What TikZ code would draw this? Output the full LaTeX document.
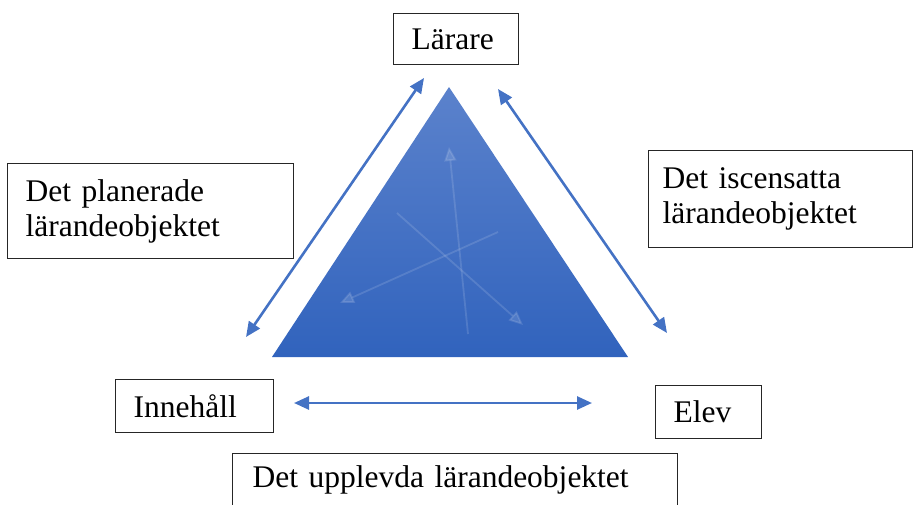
\documentclass[tikz,border=0pt]{standalone}
\usepackage{fontspec}
\setmainfont{Liberation Serif}
\usetikzlibrary{arrows.meta}
\definecolor{arrowblue}{HTML}{4472C4}
\definecolor{tritop}{HTML}{5B82CC}
\definecolor{tribot}{HTML}{3163BD}
\tikzset{
 labelbox/.style={draw=black!85, line width=1.2pt, anchor=north west, align=left, inner xsep=18pt, inner ysep=0pt, font=\fontsize{31.5}{35}\selectfont},
 link/.style={arrowblue, line width=2.6pt, {Triangle[length=15pt,width=13pt]}-{Triangle[length=15pt,width=13pt]}},
 innerarrow/.style={white, opacity=0.13, line width=1.8pt, -{Triangle[length=14pt,width=12pt]}}
}
\begin{document}
\begin{tikzpicture}[x=1pt,y=-1pt]
\useasboundingbox (0,0) rectangle (914,504);
\clip (0,0) rectangle (914,504);
% triangle
\coordinate (apex) at (449,87);
\coordinate (bl) at (272,357);
\coordinate (br) at (628,357);
\shade[top color=tritop, bottom color=tribot] (apex) -- (bl) -- (br) -- cycle;
% faint inner arrows
\coordinate (i1a) at (468,334); \coordinate (i1b) at (449,147);
\coordinate (i2a) at (397,213); \coordinate (i2b) at (523,325);
\coordinate (i3a) at (498,232); \coordinate (i3b) at (340,303);
\draw[innerarrow] (i1a) -- (i1b);
\draw[innerarrow] (i2a) -- (i2b);
\draw[innerarrow] (i3a) -- (i3b);
% boxes
\node[labelbox, text width=89pt, minimum height=51pt] (teacher) at (393,13) {Lärare};
\node[labelbox, text width=250pt, minimum height=95pt] (planned) at (7,163) {Det planerade\\lärandeobjektet};
\node[labelbox, inner xsep=14pt, text width=236pt, minimum height=97pt] (enacted) at (648,150) {Det iscensatta\\lärandeobjektet};
\node[labelbox, text width=122pt, minimum height=53pt] (content) at (115,379) {Innehåll};
\node[labelbox, text width=70pt, minimum height=53pt] (student) at (655,385) {Elev};
\node[labelbox, inner xsep=20pt, text width=405pt, text height=34pt, text depth=30pt] (lived) at (232,453) {Det upplevda lärandeobjektet};
% outer double arrows
\coordinate (l1) at (246,337); \coordinate (l2) at (424,78);
\coordinate (r1) at (498,89); \coordinate (r2) at (667,333);
\coordinate (b1) at (294,403); \coordinate (b2) at (592,403);
\draw[link] (l1) -- (l2);
\draw[link] (r1) -- (r2);
\draw[link] (b1) -- (b2);
\end{tikzpicture}
\end{document}
